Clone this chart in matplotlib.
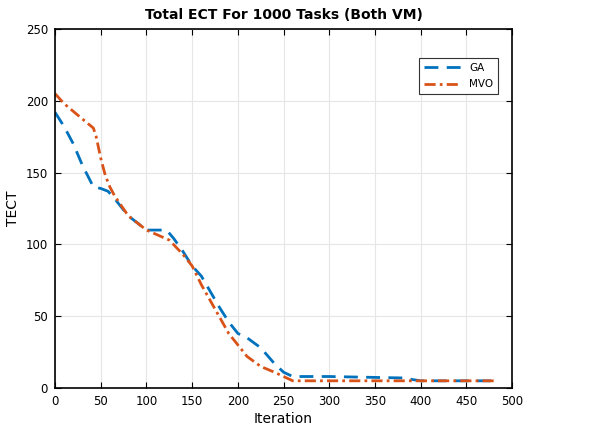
import matplotlib
matplotlib.use("Agg")
import matplotlib.pyplot as plt

# values
ga_x = [0, 10, 20, 30, 42, 50, 58, 65, 80, 100, 110, 122, 130, 140, 150, 160, 170, 180, 190, 200, 210, 225, 240, 250, 260, 300, 380, 390, 400, 480]
ga_y = [192, 182, 170, 155, 140, 139, 137, 132, 120, 110, 110, 110, 104, 95, 85, 78, 67, 56, 46, 38, 35, 28, 17, 11, 8, 8, 7, 6, 5, 5]

mvo_x = [0, 10, 25, 42, 45, 50, 55, 60, 65, 80, 100, 125, 140, 150, 160, 175, 190, 200, 210, 225, 240, 250, 260, 300, 400, 480]
mvo_y = [205, 198, 190, 181, 175, 160, 148, 140, 134, 120, 110, 103, 93, 85, 72, 55, 38, 30, 22, 15, 11, 8, 5, 5, 5, 5]

xticks = list(range(0, 501, 50))
yticks = list(range(0, 251, 50))

fig = plt.figure(figsize=(5.92, 4.34), dpi=100)
ax = fig.add_axes([0.093, 0.106, 0.772, 0.827])

ax.plot(ga_x, ga_y, '--', color='#0072BD', lw=2, dashes=(5, 3), label='GA')
ax.plot(mvo_x, mvo_y, '-.', color='#D95319', lw=2, dashes=(4, 1.5, 1, 1.5), label='MVO')

ax.set_xlim(0, 500)
ax.set_ylim(0, 250)
ax.set_xticks(xticks)
ax.set_yticks(yticks)
ax.grid(True, color='#e6e6e6', lw=0.8)
ax.tick_params(direction='in', top=True, right=True, labelsize=8.5, length=4, pad=5)
for s in ax.spines.values():
    s.set_linewidth(1.2)

ax.set_xlabel('Iteration', fontsize=10, labelpad=3)
ax.set_ylabel('TECT', fontsize=10)
ax.set_title('Total ECT For 1000 Tasks (Both VM)', fontsize=10, fontweight='bold', pad=7)

leg = ax.legend(loc='upper right', bbox_to_anchor=(0.97, 0.92), borderaxespad=0, fontsize=7.5,
                fancybox=False, edgecolor='#333333', framealpha=1, handlelength=3.5,
                borderpad=0.5, labelspacing=0.6)
leg.get_frame().set_linewidth(0.8)

fig.savefig('out.png', dpi=100)
